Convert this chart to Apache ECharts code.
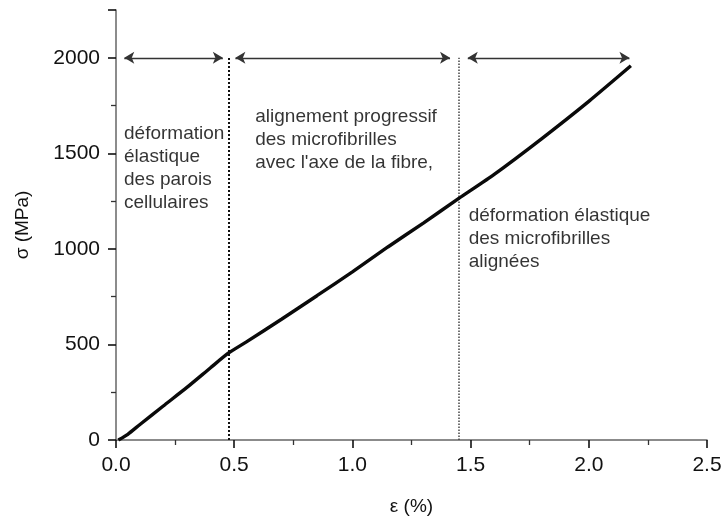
<!DOCTYPE html>
<html>
<head>
<meta charset="utf-8">
<script src="https://cdn.jsdelivr.net/npm/echarts@6/dist/echarts.min.js"></script>
<style>html,body{margin:0;padding:0;background:#fff}#c{width:727px;height:521px}</style>
</head>
<body>
<div id="c"></div>
<script>
// ---- data ----
var strain = [0.01, 0.05, 0.1, 0.2, 0.3, 0.4, 0.475, 0.55, 0.7, 0.85, 1.0, 1.15, 1.3, 1.45, 1.6, 1.8, 2.0, 2.178];
var stress = [0, 30, 80, 178, 275, 378, 454, 512, 632, 755, 880, 1010, 1135, 1264, 1390, 1576, 1772, 1958];
var boundaries = [0.475, 1.45];
var boundaryTop = 2000;
var arrowStarts = [0.035, 0.505, 1.488];
var arrowEnds = [0.452, 1.413, 2.172];
var arrowLevel = 2000;
var noteTexts = [
  "déformation\nélastique\ndes parois\ncellulaires",
  "alignement progressif\ndes microfibrilles\navec l'axe de la fibre,",
  "déformation élastique\ndes microfibrilles\nalignées"
];
var noteX = [0.034, 0.589, 1.492];
var noteY = [1422, 1570, 1052];
var xTicks = [0, 0.5, 1.0, 1.5, 2.0, 2.5];
var yTicks = [0, 500, 1000, 1500, 2000];

var FONT = "'Liberation Sans', Arial, sans-serif";
var chart = echarts.init(document.getElementById('c'), null, {renderer: 'canvas'});

var curve = strain.map(function (x, i) { return [x, stress[i]]; });
var vlines = boundaries.map(function (b, i) {
  return [{coord: [b, 0], lineStyle: {width: i === 0 ? 2 : 1.5, color: i === 0 ? '#111' : '#444'}}, {coord: [b, boundaryTop]}];
});
var arrows = arrowStarts.map(function (s, i) { return [{coord: [s, arrowLevel]}, {coord: [arrowEnds[i], arrowLevel]}]; });
var notes = noteTexts.map(function (t, i) { return {value: [noteX[i], noteY[i]], text: t}; });

chart.setOption({
  animation: false,
  backgroundColor: '#fff',
  grid: {left: 116, right: 20, top: 10, bottom: 79, containLabel: false},
  xAxis: {
    type: 'value', min: 0, max: 2.5, interval: 0.5,
    name: 'ε (%)', nameLocation: 'middle', nameGap: 57,
    nameTextStyle: {fontFamily: FONT, fontSize: 19, color: '#111'},
    axisLine: {show: true, onZero: false, lineStyle: {color: '#666', width: 1.5}},
    axisTick: {show: true, inside: false, length: 8, lineStyle: {color: '#111', width: 1.6}},
    minorTick: {show: true, splitNumber: 2, length: 5, lineStyle: {color: '#333', width: 1.3}},
    splitLine: {show: false},
    axisLabel: {fontFamily: FONT, fontSize: 21, color: '#111', margin: 15,
      formatter: function (v) { return xTicks.indexOf(v) >= 0 ? v.toFixed(1) : ''; }}
  },
  yAxis: {
    type: 'value', min: 0, max: 2250, interval: 500,
    name: 'σ (MPa)', nameLocation: 'middle', nameGap: 84, nameRotate: 90,
    nameTextStyle: {fontFamily: FONT, fontSize: 19, color: '#111'},
    axisLine: {show: true, onZero: false, lineStyle: {color: '#666', width: 1.5}},
    axisTick: {show: true, inside: false, length: 8, lineStyle: {color: '#111', width: 1.6}},
    minorTick: {show: true, splitNumber: 2, length: 5, lineStyle: {color: '#333', width: 1.3}},
    splitLine: {show: false},
    axisLabel: {fontFamily: FONT, fontSize: 21, color: '#111', margin: 16, showMaxLabel: false,
      formatter: function (v) { return yTicks.indexOf(v) >= 0 ? String(v) : ''; }}
  },
  series: [
    {
      type: 'line', data: curve, showSymbol: false, symbol: 'none', smooth: 0.2,
      lineStyle: {color: '#0a0a0a', width: 3.4}, silent: true, z: 5,
      markLine: {
        silent: true, symbol: 'none', animation: false,
        label: {show: false},
        lineStyle: {color: '#222', width: 1.6, type: 'dotted'},
        data: vlines
      }
    },
    {
      type: 'line', data: [], silent: true,
      markLine: {
        silent: true, symbol: ['arrow', 'arrow'], symbolSize: [9, 10], animation: false,
        label: {show: false},
        lineStyle: {color: '#333', width: 1.4, type: 'solid'},
        data: arrows
      }
    },
    {
      type: 'scatter', data: notes, symbolSize: 0, silent: true,
      label: {
        show: true, position: 'right', distance: 0,
        fontFamily: FONT, fontSize: 19, lineHeight: 23, color: '#000',
        formatter: function (p) { return p.data.text; }
      }
    }
  ]
});
</script>
</body>
</html>
